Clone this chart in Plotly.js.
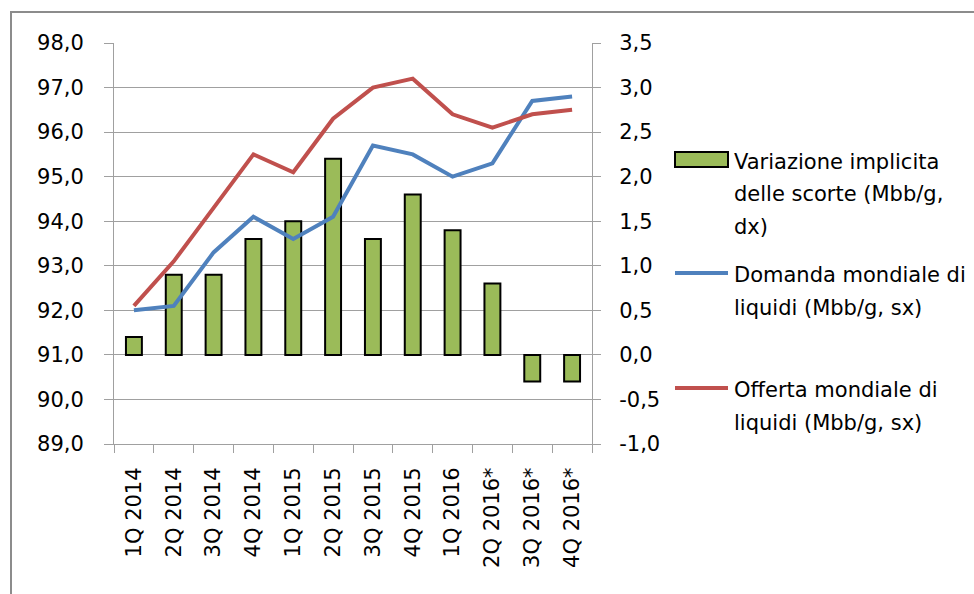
<!DOCTYPE html>
<html>
<head>
<meta charset="utf-8">
<script src="https://cdn.plot.ly/plotly-3.0.1.min.js"></script>
<style>
  html, body { margin: 0; padding: 0; background: #ffffff; }
  #wrap { position: relative; width: 974px; height: 594px; overflow: hidden; }
  #chart { width: 974px; height: 594px; }
  #frame { position: absolute; left: 10px; top: 11px; width: 1200px; height: 1200px;
           border-left: 2px solid #8c8c8c; border-top: 2px solid #8c8c8c; pointer-events: none; }
</style>
</head>
<body>
<div id="wrap"><div id="chart"></div><div id="frame"></div></div>
<script>
// ---- data ----
const categories = ['1Q 2014','2Q 2014','3Q 2014','4Q 2014','1Q 2015','2Q 2015','3Q 2015','4Q 2015','1Q 2016','2Q 2016*','3Q 2016*','4Q 2016*'];
const stockChange = [0.2, 0.9, 0.9, 1.3, 1.5, 2.2, 1.3, 1.8, 1.4, 0.8, -0.3, -0.3];
const demand = [92.0, 92.1, 93.3, 94.1, 93.6, 94.1, 95.7, 95.5, 95.0, 95.3, 96.7, 96.8];
const supply = [92.1, 93.1, 94.3, 95.5, 95.1, 96.3, 97.0, 97.2, 96.4, 96.1, 96.4, 96.5];
const seriesNames = ['Variazione implicita delle scorte (Mbb/g, dx)', 'Domanda mondiale di liquidi (Mbb/g, sx)', 'Offerta mondiale di liquidi (Mbb/g, sx)'];
const legendLines = [
  ['Variazione implicita', 'delle scorte (Mbb/g,', 'dx)'],
  ['Domanda mondiale di', 'liquidi (Mbb/g, sx)'],
  ['Offerta mondiale di', 'liquidi (Mbb/g, sx)']
];
const leftTicks = [89, 90, 91, 92, 93, 94, 95, 96, 97, 98];
const rightTicks = [-1.0, -0.5, 0.0, 0.5, 1.0, 1.5, 2.0, 2.5, 3.0, 3.5];
const leftRange = [89, 98];
const rightRange = [-1, 3.5];

// Italian-style labels with a plain hyphen for negatives
const fmt = v => v.toFixed(1).replace('.', ',');

// ---- style ----
const FONT = 'DejaVu Sans';
const FS = 21;
const GRID = '#a0a0a0';
const GREEN = '#9bbb59', BLUE = '#4f81bd', RED = '#c0504d';
const W = 974, H = 594, ML = 114, MR = 382, MT = 43, MB = 150;
const PW = W - ML - MR, PH = H - MT - MB;
const px = x => (x - ML) / PW;
const py = y => (H - MB - y) / PH;

const traces = [
  { type: 'bar', name: seriesNames[0], x: categories, y: stockChange, yaxis: 'y',
    marker: { color: GREEN, line: { color: '#000000', width: 2 } }, showlegend: false },
  { type: 'scatter', mode: 'lines', name: seriesNames[1], x: categories, y: demand, yaxis: 'y2',
    line: { color: BLUE, width: 4 }, showlegend: false },
  { type: 'scatter', mode: 'lines', name: seriesNames[2], x: categories, y: supply, yaxis: 'y2',
    line: { color: RED, width: 4 }, showlegend: false }
];

// legend (drawn manually)
const shapes = [];
const annotations = [];
const legendSym = [
  { kind: 'bar', color: GREEN, y: 159.5, lines: [160, 192.5, 225] },
  { kind: 'line', color: BLUE, y: 273, lines: [273, 306] },
  { kind: 'line', color: RED, y: 388, lines: [388, 421] }
];
legendSym.forEach((s, i) => {
  if (s.kind === 'bar') {
    shapes.push({ type: 'rect', xref: 'paper', yref: 'paper', x0: px(675), x1: px(728), y0: py(s.y - 7.5), y1: py(s.y + 7.5),
      fillcolor: s.color, line: { color: '#000000', width: 2 } });
  } else {
    shapes.push({ type: 'line', xref: 'paper', yref: 'paper', x0: px(675), x1: px(728), y0: py(s.y), y1: py(s.y),
      line: { color: s.color, width: 4 } });
  }
  legendLines[i].forEach((t, j) => {
    annotations.push({ xref: 'paper', yref: 'paper', x: px(732), y: py(s.lines[j] + 2), xanchor: 'left', yanchor: 'middle',
      text: t, showarrow: false, font: { family: FONT, size: FS, color: '#000000' } });
  });
});

const layout = {
  width: W, height: H,
  margin: { l: ML, r: MR, t: MT, b: MB, pad: 0 },
  paper_bgcolor: '#ffffff', plot_bgcolor: '#ffffff',
  font: { family: FONT, size: FS, color: '#000000' },
  bargap: 0.6,
  showlegend: false,
  xaxis: {
    type: 'category', showgrid: false, showline: true, linecolor: GRID, linewidth: 1,
    ticks: 'outside', tickson: 'boundaries', ticklen: 8, tickcolor: GRID, tickwidth: 1,
    tickangle: -90, ticklabelstandoff: 14, tickfont: { family: FONT, size: FS, color: '#000000' },
    zeroline: false
  },
  yaxis: {
    side: 'right', range: rightRange, tickmode: 'array', tickvals: rightTicks, ticktext: rightTicks.map(fmt),
    showgrid: true, gridcolor: GRID, gridwidth: 1, zeroline: false,
    showline: true, linecolor: GRID, linewidth: 1,
    ticks: 'outside', ticklen: 8, tickcolor: GRID, tickwidth: 1, ticklabelstandoff: 14,
    tickfont: { family: FONT, size: FS, color: '#000000' }
  },
  yaxis2: {
    overlaying: 'y', side: 'left', range: leftRange, tickmode: 'array', tickvals: leftTicks, ticktext: leftTicks.map(fmt),
    showgrid: false, zeroline: false,
    showline: true, linecolor: GRID, linewidth: 1,
    ticks: 'outside', ticklen: 9, tickcolor: GRID, tickwidth: 1, ticklabelstandoff: 16,
    tickfont: { family: FONT, size: FS, color: '#000000' }
  },
  shapes: shapes,
  annotations: annotations
};

Plotly.newPlot('chart', traces, layout, { displayModeBar: false, staticPlot: true });
</script>
</body>
</html>
